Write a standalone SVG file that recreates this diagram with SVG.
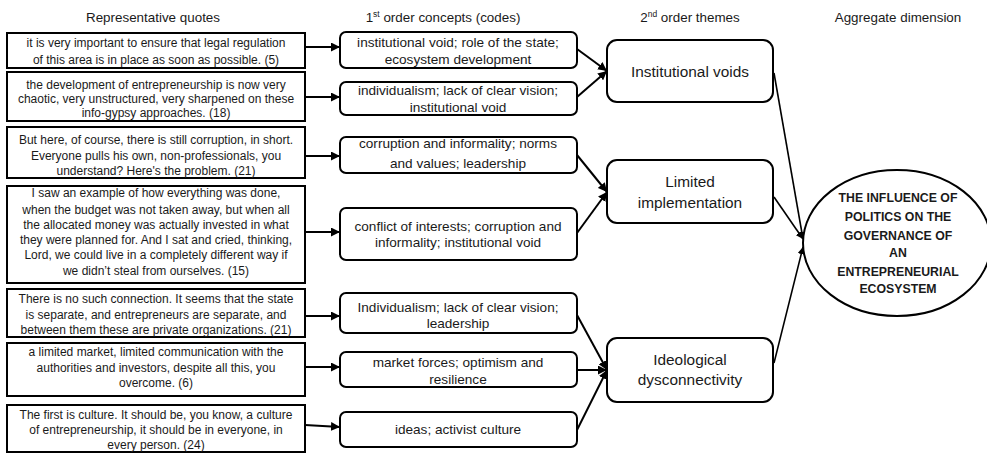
<svg xmlns="http://www.w3.org/2000/svg" width="987" height="453" viewBox="0 0 987 453">
<defs>
<marker id="ah" viewBox="0 0 10 10" refX="10" refY="5" markerWidth="4.5" markerHeight="4.5" orient="auto" markerUnits="strokeWidth">
<path d="M0,0 L10,5 L0,10 z" fill="#000"/>
</marker>
<style>
text{font-family:"Liberation Sans",Arial,sans-serif;fill:#1a1a1a;text-anchor:middle}
.h{font-size:13.4px}
.q{font-size:12px}
.c{font-size:13.6px}
.t{font-size:15.4px}
.e{font-size:12.3px;font-weight:bold}
.qb{fill:#fff;stroke:#000;stroke-width:2}
.cb{fill:#fff;stroke:#000;stroke-width:2}
.ln{fill:none;stroke:#000;stroke-width:2;marker-end:url(#ah)}
.ln2{fill:none;stroke:#000;stroke-width:1.6;marker-end:url(#ah)}
</style>
</defs>
<rect width="987" height="453" fill="#fff"/>
<g id="headers">
<text class="h" x="153" y="22">Representative quotes</text>
<text class="h" x="443" y="22">1<tspan font-size="8.5" dy="-5">st</tspan><tspan dy="5"> order concepts (codes)</tspan></text>
<text class="h" x="690" y="22">2<tspan font-size="8.5" dy="-5">nd</tspan><tspan dy="5"> order themes</tspan></text>
<text class="h" x="898" y="22">Aggregate dimension</text>
</g>
<g id="connectors">
<line class="ln" x1="305" y1="47" x2="340" y2="47"/>
<line class="ln" x1="305" y1="97" x2="340" y2="97"/>
<line class="ln" x1="305" y1="156" x2="340" y2="156"/>
<line class="ln" x1="305" y1="232" x2="340" y2="232"/>
<line class="ln" x1="305" y1="316" x2="340" y2="316"/>
<line class="ln" x1="305" y1="367" x2="340" y2="367"/>
<line class="ln" x1="305" y1="425" x2="340" y2="427"/>
<line class="ln" x1="577" y1="49" x2="607" y2="71"/>
<line class="ln" x1="577" y1="97" x2="607" y2="71"/>
<line class="ln" x1="577" y1="155" x2="607" y2="192"/>
<line class="ln" x1="577" y1="233" x2="607" y2="192"/>
<line class="ln" x1="577" y1="315" x2="607" y2="370"/>
<line class="ln" x1="577" y1="370" x2="607" y2="370"/>
<line class="ln" x1="577" y1="430" x2="607" y2="370"/>
<line class="ln2" x1="774" y1="73" x2="803" y2="239"/>
<line class="ln2" x1="774" y1="197" x2="803" y2="239"/>
<line class="ln2" x1="774" y1="363" x2="803" y2="247"/>
</g>
<g id="q1"><rect class="qb" x="7" y="33" width="298" height="35"/>
<text class="q" x="156" y="47">it is very important to ensure that legal regulation</text>
<text class="q" x="156" y="64">of this area is in place as soon as possible. (5)</text></g>
<g id="q2"><rect class="qb" x="7" y="72" width="298" height="49"/>
<text class="q" x="156" y="89">the development  of entrepreneurship is now very</text>
<text class="q" x="156" y="103">chaotic, very unstructured, very sharpened on these</text>
<text class="q" x="156" y="117">info-gypsy approaches.  (18)</text></g>
<g id="q3"><rect class="qb" x="7" y="127" width="298" height="51"/>
<text class="q" x="156" y="144">But here, of course, there is still corruption, in short.</text>
<text class="q" x="156" y="160">Everyone pulls his own, non-professionals,  you</text>
<text class="q" x="156" y="175">understand? Here's the problem. (21)</text></g>
<g id="q4"><rect class="qb" x="7" y="186" width="298" height="97"/>
<text class="q" x="156" y="197">I saw an example of how everything was done,</text>
<text class="q" x="156" y="214">when the budget was not taken away, but when all</text>
<text class="q" x="156" y="229">the allocated money was actually invested in what</text>
<text class="q" x="156" y="244">they were planned for. And I sat and cried, thinking,</text>
<text class="q" x="156" y="259">Lord, we could live in a completely different way if</text>
<text class="q" x="156" y="275">we didn’t steal from ourselves. (15)</text></g>
<g id="q5"><rect class="qb" x="7" y="289" width="298" height="48"/>
<text class="q" x="156" y="303">There is no such connection. It seems that the state</text>
<text class="q" x="156" y="319">is separate, and entrepreneurs are separate, and</text>
<text class="q" x="156" y="334">between them these are private organizations. (21)</text></g>
<g id="q6"><rect class="qb" x="7" y="343" width="298" height="53"/>
<text class="q" x="156" y="356">a limited market, limited communication with the</text>
<text class="q" x="156" y="372">authorities and investors, despite all this, you</text>
<text class="q" x="156" y="387">overcome. (6)</text></g>
<g id="q7"><rect class="qb" x="7" y="405" width="298" height="47"/>
<text class="q" x="156" y="419">The first is culture. It should be, you know, a culture</text>
<text class="q" x="156" y="434">of entrepreneurship, it should be in everyone, in</text>
<text class="q" x="156" y="449">every person. (24)</text></g>
<g id="c1"><rect class="cb" x="340" y="32" width="237" height="36" rx="6"/>
<text class="c" x="458" y="47">institutional void; role of the state;</text>
<text class="c" x="458" y="64">ecosystem development</text></g>
<g id="c2"><rect class="cb" x="340" y="82" width="237" height="33" rx="6"/>
<text class="c" x="458" y="95">individualism; lack of clear vision;</text>
<text class="c" x="458" y="112">institutional void</text></g>
<g id="c3"><rect class="cb" x="340" y="137" width="237" height="36" rx="6"/>
<text class="c" x="458" y="148">corruption and informality; norms</text>
<text class="c" x="458" y="168">and values; leadership</text></g>
<g id="c4"><rect class="cb" x="340" y="208" width="237" height="52" rx="6"/>
<text class="c" x="458" y="231">conflict of interests; corruption and</text>
<text class="c" x="458" y="247">informality; institutional void</text></g>
<g id="c5"><rect class="cb" x="340" y="293" width="237" height="40" rx="6"/>
<text class="c" x="458" y="312">Individualism; lack of clear vision;</text>
<text class="c" x="458" y="328">leadership</text></g>
<g id="c6"><rect class="cb" x="340" y="352" width="237" height="35" rx="6"/>
<text class="c" x="458" y="367">market forces; optimism and</text>
<text class="c" x="458" y="384">resilience</text></g>
<g id="c7"><rect class="cb" x="340" y="412" width="237" height="35" rx="6"/>
<text class="c" x="458" y="434">ideas; activist culture</text></g>
<g id="t1"><rect class="cb" x="607" y="40" width="166" height="62" rx="10"/>
<text class="t" x="690" y="77">Institutional voids</text></g>
<g id="t2"><rect class="cb" x="607" y="160" width="166" height="63" rx="10"/>
<text class="t" x="690" y="187">Limited</text>
<text class="t" x="690" y="208">implementation</text></g>
<g id="t3"><rect class="cb" x="607" y="338" width="166" height="64" rx="10"/>
<text class="t" x="690" y="365">Ideological</text>
<text class="t" x="690" y="385">dysconnectivity</text></g>
<g id="agg"><ellipse cx="897" cy="243" rx="94" ry="73" fill="#fff" stroke="#000" stroke-width="2"/>
<text class="e" x="898" y="202">THE INFLUENCE OF</text>
<text class="e" x="898" y="221">POLITICS ON THE</text>
<text class="e" x="898" y="240">GOVERNANCE OF</text>
<text class="e" x="898" y="257">AN</text>
<text class="e" x="898" y="276">ENTREPRENEURIAL</text>
<text class="e" x="898" y="293">ECOSYSTEM</text></g>
</svg>
